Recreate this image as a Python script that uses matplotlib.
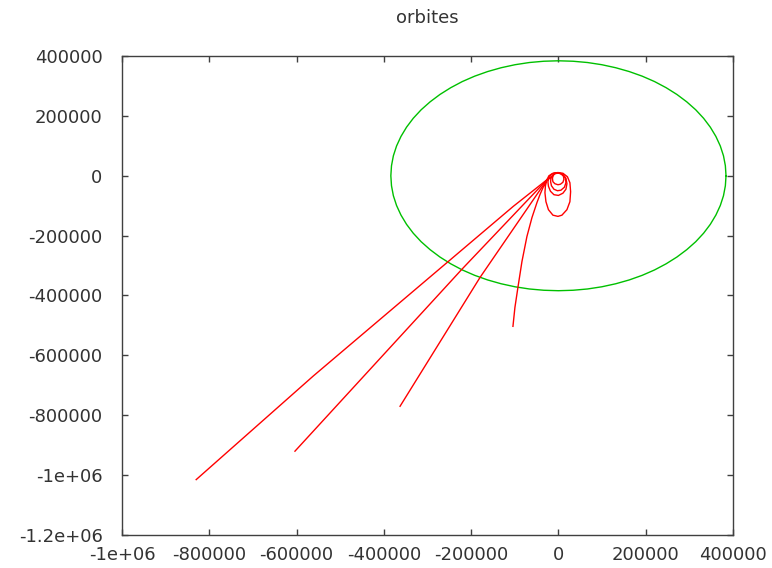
import numpy as np
import matplotlib
matplotlib.use("Agg")
import matplotlib.pyplot as plt

# orbite de la lune (cercle vert)
lune_x = [384000, 382500, 378200, 370900, 360800, 348000, 332600, 314600, 294100, 271500,
          246800, 220300, 192000, 162300, 131300, 99400, 66700, 33500, 0,
          -33500, -66700, -99400, -131300, -162300, -192000, -220300, -246800, -271500,
          -294100, -314600, -332600, -348000, -360800, -370900, -378200, -382500, -384000,
          -382500, -378200, -370900, -360800, -348000, -332600, -314600, -294100, -271500,
          -246800, -220300, -192000, -162300, -131300, -99400, -66700, -33500, 0,
          33500, 66700, 99400, 131300, 162300, 192000, 220300, 246800, 271500,
          294100, 314600, 332600, 348000, 360800, 370900, 378200, 382500, 384000]
lune_y = [0, 33500, 66700, 99400, 131300, 162300, 192000, 220300, 246800, 271500,
          294100, 314600, 332600, 348000, 360800, 370900, 378200, 382500, 384000,
          382500, 378200, 370900, 360800, 348000, 332600, 314600, 294100, 271500,
          246800, 220300, 192000, 162300, 131300, 99400, 66700, 33500, 0,
          -33500, -66700, -99400, -131300, -162300, -192000, -220300, -246800, -271500,
          -294100, -314600, -332600, -348000, -360800, -370900, -378200, -382500, -384000,
          -382500, -378200, -370900, -360800, -348000, -332600, -314600, -294100, -271500,
          -246800, -220300, -192000, -162300, -131300, -99400, -66700, -33500, 0]

# trajectoires (rouge)
t1_x = [-830000, -561800, -256100, -103500, -26000,
        -12600, -8000, -1100, 5700, 11500, 12600, 10300, 4600, -1100, -8000, -12600, -13700, -12600]
t1_y = [-1015000, -669000, -291000, -102300, -13000,
        0, 6700, 9000, 6700, -1700, -11700, -21700, -28300, -30000, -26700, -20000, -10000, 0]

t2_x = [-603700, -221800, -26000,
        -17200, -12600, -5700, 2300, 10300, 16000, 17200, 13700, 5700, -2300, -10300, -16000, -17900, -17200]
t2_y = [-920000, -313300, -13000,
        -6700, 3300, 9000, 8300, 3300, -8300, -23300, -38300, -48300, -50000, -45000, -33300, -20000, -6700]

t3_x = [-362900, -179800, -26000,
        -21800, -16000, -8000, 1100, 10300, 17200, 19500, 17200, 10300, 0, -10300, -18300, -22900, -24100, -21800]
t3_y = [-770000, -340000, -13000,
        -6700, 5000, 10000, 10000, 5000, -8300, -26700, -45000, -58300, -65700, -63300, -51700, -35000, -20000, -6700]

t4_x = [-104200, -99700, -92800, -83600, -72200, -60700, -49300, -42400, -35500, -26300,
        -21800, -12600, -1100, 10300, 20600, 26300, 27900, 26300, 19500, 8000, -1100, -12600, -22900, -28600, -30900, -29800, -26300]
t4_y = [-503000, -440000, -373000, -286600, -203000, -140000, -90000, -63300, -40000, -13300,
        0, 8300, 10700, 8300, -3300, -23300, -53300, -86700, -113300, -131700, -135700, -131700, -113300, -86700, -56700, -33300, -13300]

xticks = [-1000000, -800000, -600000, -400000, -200000, 0, 200000, 400000]
xlabels = ["-1e+06", "-800000", "-600000", "-400000", "-200000", "0", "200000", "400000"]
yticks = [-1200000, -1000000, -800000, -600000, -400000, -200000, 0, 200000, 400000]
ylabels = ["-1.2e+06", "-1e+06", "-800000", "-600000", "-400000", "-200000", "0", "200000", "400000"]

fig = plt.figure(figsize=(7.72, 5.68), dpi=100)
ax = fig.add_axes([122 / 772, 33 / 568, 611 / 772, 479 / 568])

ax.plot(lune_x, lune_y, color="#00c000", linewidth=1)
for tx, ty in [(t1_x, t1_y), (t2_x, t2_y), (t3_x, t3_y), (t4_x, t4_y)]:
    ax.plot(tx, ty, color="#ff0000", linewidth=1)

ax.set_xlim(-1000000, 400000)
ax.set_ylim(-1200000, 400000)
ax.set_xticks(xticks)
ax.set_xticklabels(xlabels)
ax.set_yticks(yticks)
ax.set_yticklabels(ylabels)
ax.tick_params(direction="in", length=4, width=1, color="#404040",
               top=True, right=True, labelsize=13, labelcolor="#333333")
ax.tick_params(axis="y", pad=14)
ax.tick_params(axis="x", pad=8)
for s in ax.spines.values():
    s.set_color("#404040")
    s.set_linewidth(1)

fig.text(427 / 772, 1 - 18 / 568, "orbites", ha="center", va="center",
         fontsize=13, color="#333333")

fig.savefig("out.png", dpi=100)
